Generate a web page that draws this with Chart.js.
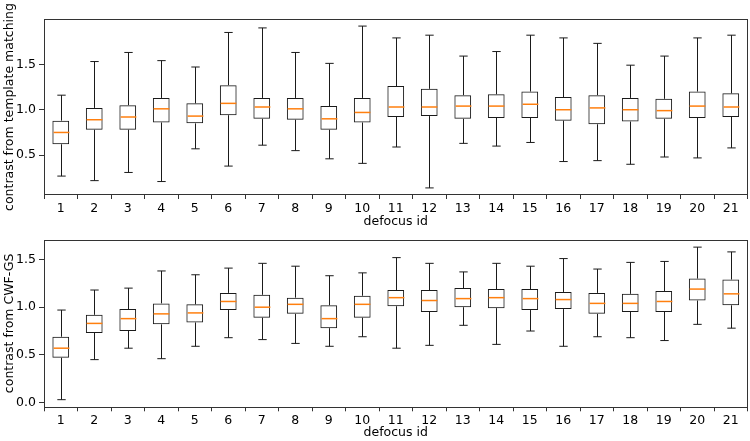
<!DOCTYPE html>
<html>
<head>
<meta charset="utf-8">
<script src="https://cdn.jsdelivr.net/npm/chart.js@4.4.1/dist/chart.umd.min.js"></script>
<style>
  html, body { margin: 0; padding: 0; background: #fff; }
  #wrap { position: relative; width: 750px; height: 441px; }
  canvas { position: absolute; left: 0; }
  #top-chart { top: 0; }
  #bottom-chart { top: 229px; }
</style>
</head>
<body>
<div id="wrap">
  <canvas id="top-chart" width="750" height="229"></canvas>
  <canvas id="bottom-chart" width="750" height="212"></canvas>
</div>
<script>
const DEFOCUS_IDS = ['1', '2', '3', '4', '5', '6', '7', '8', '9', '10', '11',
  '12', '13', '14', '15', '16', '17', '18', '19', '20', '21'];

// top panel: contrast from template matching
const TM_MIN = [0.27, 0.22, 0.31, 0.21, 0.57, 0.38, 0.61, 0.55, 0.46, 0.41, 0.59,
  0.14, 0.63, 0.60, 0.64, 0.43, 0.44, 0.40, 0.48, 0.47, 0.58];
const TM_Q1 = [0.62, 0.78, 0.78, 0.86, 0.85, 0.94, 0.90, 0.89, 0.78, 0.86, 0.92,
  0.93, 0.90, 0.91, 0.91, 0.88, 0.84, 0.87, 0.90, 0.91, 0.92];
const TM_MED = [0.75, 0.89, 0.92, 1.01, 0.93, 1.07, 1.03, 1.01, 0.90, 0.97, 1.03,
  1.03, 1.04, 1.04, 1.06, 1.00, 1.02, 1.00, 0.99, 1.04, 1.03];
const TM_Q3 = [0.88, 1.02, 1.05, 1.13, 1.07, 1.27, 1.13, 1.13, 1.04, 1.13, 1.26,
  1.23, 1.16, 1.17, 1.20, 1.14, 1.16, 1.13, 1.12, 1.20, 1.18];
const TM_MAX = [1.16, 1.53, 1.63, 1.54, 1.47, 1.85, 1.90, 1.63, 1.51, 1.92, 1.79,
  1.82, 1.59, 1.64, 1.82, 1.79, 1.73, 1.49, 1.59, 1.79, 1.82];

// bottom panel: contrast from CWF-GS
const GS_MIN = [0.03, 0.45, 0.57, 0.46, 0.59, 0.68, 0.66, 0.62, 0.59, 0.69, 0.57,
  0.60, 0.81, 0.61, 0.75, 0.59, 0.69, 0.68, 0.65, 0.82, 0.78];
const GS_Q1 = [0.47, 0.73, 0.75, 0.82, 0.84, 0.97, 0.89, 0.93, 0.78, 0.89, 1.01,
  0.95, 1.00, 0.99, 0.97, 0.98, 0.93, 0.95, 0.95, 1.07, 1.02];
const GS_MED = [0.57, 0.83, 0.88, 0.93, 0.94, 1.06, 1.00, 1.03, 0.88, 1.03, 1.10,
  1.07, 1.09, 1.10, 1.09, 1.08, 1.04, 1.04, 1.06, 1.19, 1.14];
const GS_Q3 = [0.69, 0.92, 0.98, 1.04, 1.03, 1.15, 1.13, 1.10, 1.02, 1.12, 1.18,
  1.18, 1.20, 1.19, 1.19, 1.16, 1.15, 1.14, 1.17, 1.30, 1.29];
const GS_MAX = [0.97, 1.18, 1.20, 1.38, 1.34, 1.41, 1.46, 1.43, 1.33, 1.36, 1.52,
  1.46, 1.37, 1.46, 1.43, 1.51, 1.40, 1.47, 1.48, 1.63, 1.58];

const TM_TICKS = [0.5, 1.0, 1.5];
const GS_TICKS = [0.0, 0.5, 1.0, 1.5];

const FONT = { family: '"DejaVu Sans", sans-serif', size: 12.5 };
const LINE_COLOR = '#1a1a1a';
const MEDIAN_COLOR = '#ff7f0e';

function whiskerPlugin(mins, meds, maxs) {
  return {
    id: 'whiskers',
    afterDatasetsDraw(chart) {
      const { ctx, scales: { x, y } } = chart;
      const bars = chart.getDatasetMeta(0).data;
      ctx.save();
      bars.forEach((bar, i) => {
        const cx = Math.round(x.getPixelForValue(i)) + 0.5;
        const half = bar.width / 2;
        const top = y.getPixelForValue(maxs[i]);
        const bottom = y.getPixelForValue(mins[i]);
        const boxTop = Math.min(bar.y, bar.base);
        const boxBottom = Math.max(bar.y, bar.base);

        ctx.lineWidth = 1;
        ctx.strokeStyle = LINE_COLOR;
        ctx.beginPath();
        ctx.moveTo(cx, boxTop);
        ctx.lineTo(cx, top);
        ctx.moveTo(cx - half / 2, top);
        ctx.lineTo(cx + half / 2, top);
        ctx.moveTo(cx, boxBottom);
        ctx.lineTo(cx, bottom);
        ctx.moveTo(cx - half / 2, bottom);
        ctx.lineTo(cx + half / 2, bottom);
        ctx.stroke();

        const my = y.getPixelForValue(meds[i]);
        ctx.lineWidth = 1.5;
        ctx.strokeStyle = MEDIAN_COLOR;
        ctx.beginPath();
        ctx.moveTo(cx - half + 0.5, my);
        ctx.lineTo(cx + half - 0.5, my);
        ctx.stroke();
      });
      ctx.restore();
    }
  };
}

const framePlugin = {
  id: 'frame',
  afterDraw(chart) {
    const { ctx, chartArea: a } = chart;
    ctx.save();
    ctx.strokeStyle = '#333';
    ctx.lineWidth = 1;
    ctx.strokeRect(Math.round(a.left) + 0.5, Math.round(a.top) + 0.5,
      Math.round(a.right - a.left) - 1, Math.round(a.bottom - a.top) - 1);
    ctx.restore();
  }
};

function boxChart(id, q1, q3, mins, meds, maxs, yTitle, yMin, yMax, ticks, opts) {
  return new Chart(document.getElementById(id), {
    type: 'bar',
    data: {
      labels: DEFOCUS_IDS,
      datasets: [{
        data: q1.map((v, i) => [v, q3[i]]),
        backgroundColor: 'rgba(0,0,0,0)',
        borderColor: LINE_COLOR,
        borderWidth: 1,
        borderSkipped: false,
        barPercentage: 0.5,
        categoryPercentage: 1
      }]
    },
    options: {
      responsive: false,
      animation: false,
      layout: { padding: { top: opts.padTop, right: 2.5, left: 0, bottom: 0 } },
      plugins: { legend: { display: false }, tooltip: { enabled: false } },
      scales: {
        x: {
          offset: true,
          grid: { display: true, drawOnChartArea: false, drawTicks: true, tickLength: 4, tickColor: '#333' },
          border: { display: false },
          ticks: { color: '#000', font: FONT, padding: 2, maxRotation: 0, autoSkip: false },
          title: { display: true, text: 'defocus id', color: '#000', font: { ...FONT, lineHeight: 1 }, padding: { top: 0, bottom: opts.titleBottom } },
          afterFit(scale) { scale.height = opts.xHeight; }
        },
        y: {
          min: yMin,
          max: yMax,
          grid: { display: true, drawOnChartArea: false, drawTicks: true, tickLength: 5, tickColor: '#333' },
          border: { display: false },
          ticks: { color: '#000', font: FONT, padding: 3, callback: v => v.toFixed(1) },
          title: { display: true, text: yTitle, color: '#000', font: { ...FONT, lineHeight: 1 }, padding: { top: 3.5, bottom: 0 } },
          afterBuildTicks(scale) { scale.ticks = ticks.map(v => ({ value: v })); },
          afterFit(scale) { scale.width = 44; }
        }
      }
    },
    plugins: [whiskerPlugin(mins, meds, maxs), framePlugin]
  });
}

boxChart('top-chart', TM_Q1, TM_Q3, TM_MIN, TM_MED, TM_MAX,
  'contrast from template matching', 0.062, 1.998, TM_TICKS,
  { padTop: 19, xHeight: 34, titleBottom: 1 });

boxChart('bottom-chart', GS_Q1, GS_Q3, GS_MIN, GS_MED, GS_MAX,
  'contrast from CWF-GS', -0.05, 1.71, GS_TICKS,
  { padTop: 2, xHeight: 33.7, titleBottom: 2 });
</script>
</body>
</html>
